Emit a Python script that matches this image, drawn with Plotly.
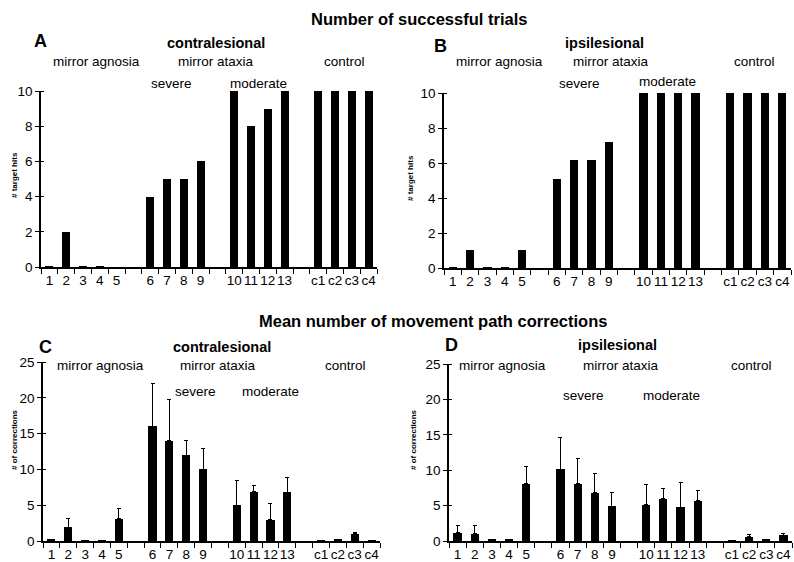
import plotly.graph_objects as go

W, H = 794, 562

labels = ["1", "2", "3", "4", "5", "6", "7", "8", "9", "10", "11", "12", "13", "c1", "c2", "c3", "c4"]
# slot positions (with an empty slot between groups)
slots = [0, 1, 2, 3, 4, 6, 7, 8, 9, 11, 12, 13, 14, 16, 17, 18, 19]

hits_contra = [0.05, 2, 0.05, 0.05, 0, 4, 5, 5, 6, 10, 8, 9, 10, 10, 10, 10, 10]
hits_ipsi = [0.05, 1.05, 0.05, 0.05, 1.05, 5.1, 6.15, 6.15, 7.2, 10.1, 10.1, 10.1, 10.1, 10.1, 10.1, 10.1, 10.1]

corr_contra = [0.15, 1.9, 0.05, 0.05, 3.1, 16, 14, 12, 10, 5, 6.9, 3, 6.8, 0.05, 0.15, 1.0, 0.05]
corr_contra_err = [0, 1.2, 0, 0, 1.4, 6.0, 5.8, 2.1, 2.9, 3.4, 0.8, 2.2, 2.0, 0, 0, 0.2, 0]
corr_ipsi = [1.2, 1.0, 0.15, 0.15, 8.1, 10.1, 8.1, 6.8, 4.9, 5.1, 6.0, 4.8, 5.7, 0.1, 0.6, 0.15, 0.8]
corr_ipsi_err = [1.0, 1.2, 0, 0, 2.4, 4.5, 3.5, 2.7, 2.0, 2.9, 1.4, 3.4, 1.5, 0, 0.3, 0, 0.3]

FONT = "Liberation Sans, Arial, sans-serif"


def px(x):
    return min(1.0, max(0.0, x / W))


def py(y):
    return min(1.0, max(0.0, 1 - y / H))


panels = [
    dict(v=hits_contra, e=None, x0=41, x1=377, yt=91, yb=267, ymax=10, dt=2),
    dict(v=hits_ipsi, e=None, x0=444, x1=791, yt=93, yb=268, ymax=10, dt=2),
    dict(v=corr_contra, e=corr_contra_err, x0=43, x1=380, yt=362, yb=541, ymax=25, dt=5),
    dict(v=corr_ipsi, e=corr_ipsi_err, x0=449, x1=792, yt=364, yb=541, ymax=25, dt=5),
]

fig = go.Figure()
layout = {}
for i, p in enumerate(panels):
    n = i + 1
    xa = "x" if n == 1 else f"x{n}"
    ya = "y" if n == 1 else f"y{n}"
    kw = dict(x=slots, y=p["v"], xaxis=xa, yaxis=ya, marker=dict(color="black", line=dict(width=0)),
              width=0.48, showlegend=False, cliponaxis=False, hoverinfo="skip")
    if p["e"] is not None:
        kw["error_y"] = dict(type="data", symmetric=False, array=p["e"], arrayminus=[0] * len(p["e"]),
                             color="black", thickness=1, width=2)
    fig.add_trace(go.Bar(**kw))
    xkey = "xaxis" if n == 1 else f"xaxis{n}"
    ykey = "yaxis" if n == 1 else f"yaxis{n}"
    layout[xkey] = dict(domain=[px(p["x0"]), px(p["x1"])], range=[-0.5, 19.5], anchor=ya,
                        automargin=False, tickangle=0,
                        tickvals=slots, ticktext=labels, ticks="", showgrid=False, zeroline=False,
                        showline=True, linecolor="black", linewidth=1.5,
                        tickfont=dict(family=FONT, size=13.5, color="black"),
                        minor=dict(tickvals=[k - 0.5 for k in range(21)], ticks="outside", ticklen=5,
                                   tickcolor="black", tickwidth=1.2, showgrid=False))
    tv = list(range(0, p["ymax"] + 1, p["dt"]))
    layout[ykey] = dict(domain=[py(p["yb"]), py(p["yt"])], range=[0, p["ymax"]], anchor=xa,
                        automargin=False,
                        tickvals=tv, ticks="outside", ticklen=4, tickcolor="black", tickwidth=1.2,
                        showgrid=False, zeroline=False, showline=True, linecolor="black", linewidth=1.5,
                        tickfont=dict(family=FONT, size=13.5, color="black"),
                        minor=dict(tickvals=tv, ticks="inside", ticklen=3, tickcolor="black",
                                   tickwidth=1.2, showgrid=False))

annotations = []


def txt(x, y, s, size=13.5, bold=False, angle=0):
    annotations.append(dict(x=px(x), y=py(y), xref="paper", yref="paper", text=(f"<b>{s}</b>" if bold else s),
                            showarrow=False, xanchor="center", yanchor="middle", textangle=angle,
                            font=dict(family=FONT, size=size, color="black")))


txt(419, 19, "Number of successful trials", 16.5, True)
txt(433, 321, "Mean number of movement path corrections", 16.5, True)

# Panel A
txt(40, 41, "A", 18, True)
txt(216, 43, "contralesional", 14.5, True)
txt(96, 62, "mirror agnosia")
txt(216, 62, "mirror ataxia")
txt(344, 62, "control")
txt(171, 83, "severe")
txt(258, 83, "moderate")
txt(14, 175, "# target hits", 8, True, -90)

# Panel B
txt(441, 46, "B", 18, True)
txt(604, 43, "ipsilesional", 14.5, True)
txt(499, 62, "mirror agnosia")
txt(611, 62, "mirror ataxia")
txt(754, 62, "control")
txt(579, 84, "severe")
txt(667, 82, "moderate")
txt(410, 178, "# target hits", 8, True, -90)

# Panel C
txt(45, 347, "C", 18, True)
txt(222, 347, "contralesional", 14.5, True)
txt(100, 365, "mirror agnosia")
txt(218, 365, "mirror ataxia")
txt(345, 365, "control")
txt(195, 391, "severe")
txt(270, 391, "moderate")
txt(14, 440, "# of corrections", 8, True, -90)

# Panel D
txt(451, 345, "D", 18, True)
txt(617, 345, "ipsilesional", 14.5, True)
txt(502, 365, "mirror agnosia")
txt(621, 365, "mirror ataxia")
txt(751, 365, "control")
txt(583, 395, "severe")
txt(671, 395, "moderate")
txt(413, 440, "# of corrections", 8, True, -90)

fig.update_layout(width=W, height=H, margin=dict(l=0, r=0, t=0, b=0), paper_bgcolor="white",
                  plot_bgcolor="white", bargap=0, annotations=annotations, **layout)

# remove the browser's default 8px body margin so the 794x562 figure fills the window exactly
fig.write_html("out.html", config={"displayModeBar": False},
               post_script="document.body.style.margin='0';document.body.style.overflow='hidden';")
